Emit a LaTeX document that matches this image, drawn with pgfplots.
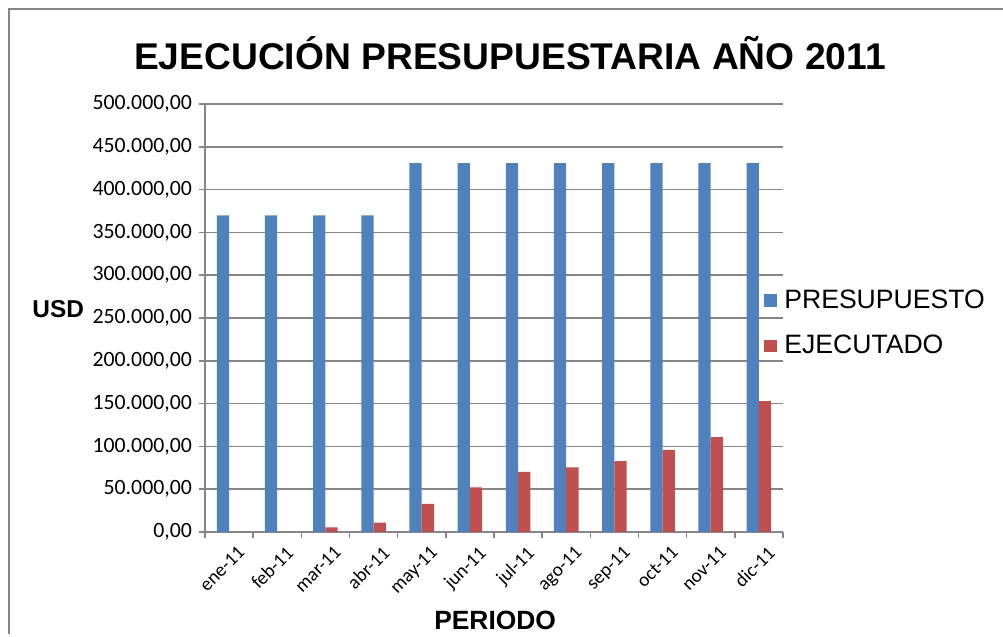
\documentclass[border=0pt]{standalone}
\usepackage{pgfplots}
\pgfplotsset{compat=1.18}
\usepackage{fontspec}
\setmainfont{Liberation Sans}
\newfontfamily\carlito{Carlito}
\definecolor{xlblue}{HTML}{4F81BD}
\definecolor{xlred}{HTML}{C0504D}
\definecolor{xlgrid}{HTML}{868686}

\begin{document}
\begin{tikzpicture}
\begin{axis}[
  scale only axis,width=289pt,height=214pt,
  ybar=0pt,bar width=0.255,
  xmin=-0.5,xmax=11.5,ymin=0,ymax=500000,
  axis x line*=bottom,axis y line*=left,
  axis line style={xlgrid,-,line width=0.8pt},
  xtick={0,...,11},
  xticklabels={ene-11,feb-11,mar-11,abr-11,may-11,jun-11,jul-11,ago-11,sep-11,oct-11,nov-11,dic-11},
  minor xtick={-0.5,0.5,...,11.5},
  major x tick style={draw=none},
  minor x tick style={xlgrid,line width=0.8pt},
  minor tick length=3pt,
  xticklabel style={rotate=45,anchor=north east,font=\carlito\fontsize{9.6}{11}\selectfont,inner sep=1pt,xshift=1.5pt,yshift=-4pt},
  ytick={0,50000,...,500000},
  y tick style={xlgrid,line width=0.8pt},
  major tick length=3pt,
  tick align=outside,
  ymajorgrids,
  grid style={xlgrid,line width=0.8pt},
  scaled y ticks=false,
  yticklabel style={font=\carlito\fontsize{10.9}{12}\selectfont,/pgf/number format/assume math mode=true},
  yticklabel={\pgfmathprintnumber[fixed,fixed zerofill,precision=2,1000 sep={.},dec sep={,}]{\tick}},
  ylabel={\textbf{USD}},
  ylabel style={rotate=-90,at={(rel axis cs:-0.254,0.52)},anchor=center,font=\fontsize{12.2}{14}\selectfont},
  xlabel={\textbf{PERIODO}},
  xlabel style={at={(rel axis cs:0.502,-0.206)},anchor=center,font=\fontsize{13.2}{15}\selectfont},
  legend style={at={(rel axis cs:0.967,0.488)},anchor=west,draw=none,fill=none,
    font=\fontsize{13.3}{16}\selectfont,row sep=8pt,inner sep=0pt,
    nodes={inner xsep=3.5pt}},
  legend cell align=left,
  legend image code/.code={\fill[#1] (0pt,-3.2pt) rectangle (6.5pt,3.2pt);},
  clip=false,
]
\addplot[fill=xlblue,draw=none] coordinates {(0,370000) (1,370000) (2,370000) (3,370000) (4,431000) (5,431000) (6,431000) (7,431000) (8,431000) (9,431000) (10,431000) (11,431000)};
\addlegendentry{PRESUPUESTO}
\addplot[fill=xlred,draw=none] coordinates {(0,0) (1,0) (2,5500) (3,11000) (4,32800) (5,52000) (6,70300) (7,75400) (8,82800) (9,96000) (10,110900) (11,153000)};
\addlegendentry{EJECUTADO}
\coordinate (o) at (rel axis cs:0,0);
\end{axis}
\path[use as bounding box] ([shift={(-102.5pt,-51pt)}]o) rectangle ([shift={(399pt,266pt)}]o);
\draw[xlgrid,line width=0.8pt] ([shift={(-98pt,-51pt)}]o) -- ([shift={(-98pt,261.5pt)}]o) -- ([shift={(399pt,261.5pt)}]o);
\node[font=\bfseries\fontsize{18.6}{21}\selectfont] at ([shift={(152.5pt,239.5pt)}]o) {EJECUCIÓN PRESUPUESTARIA AÑO 2011};
\end{tikzpicture}
\end{document}
